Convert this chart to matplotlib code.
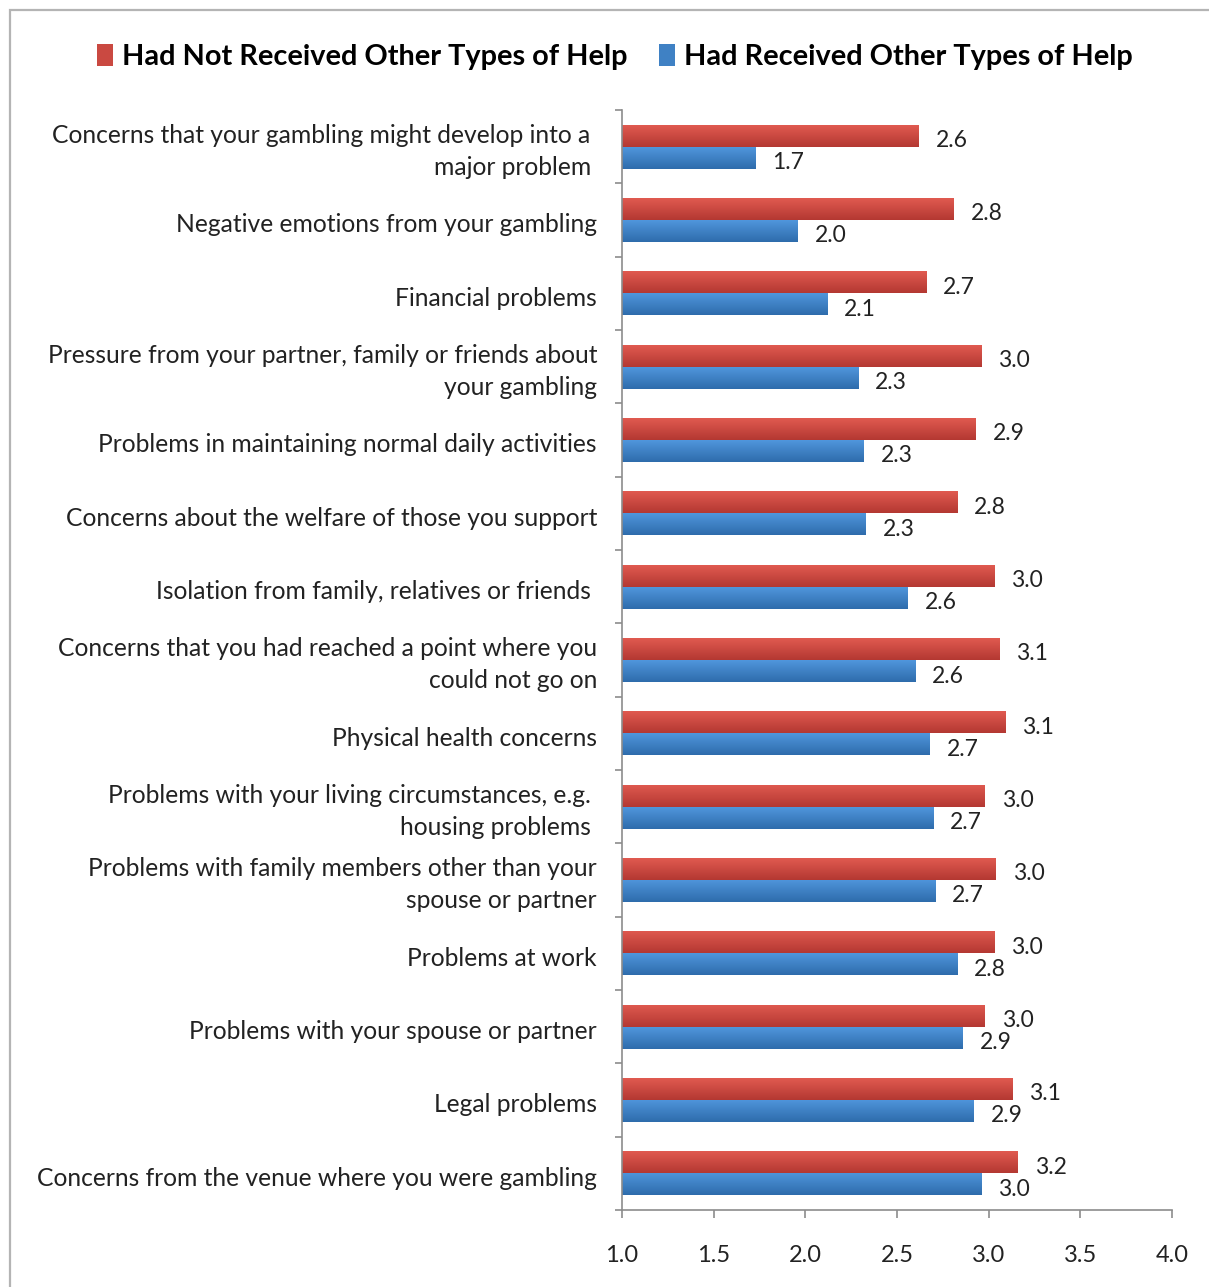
import numpy as np
import matplotlib
matplotlib.use("Agg")
import matplotlib.pyplot as plt
from matplotlib.patches import Patch, Rectangle
from matplotlib.transforms import ScaledTranslation

plt.rcParams['font.family'] = ['Lato', 'DejaVu Sans']

categories = [
    "Concerns that your gambling might develop into a \nmajor problem ",
    "Negative emotions from your gambling",
    "Financial problems",
    "Pressure from your partner, family or friends about\nyour gambling",
    "Problems in maintaining normal daily activities",
    "Concerns about the welfare of those you support",
    "Isolation from family, relatives or friends ",
    "Concerns that you had reached a point where you\ncould not go on",
    "Physical health concerns",
    "Problems with your living circumstances, e.g. \nhousing problems ",
    "Problems with family members other than your\nspouse or partner",
    "Problems at work",
    "Problems with your spouse or partner",
    "Legal problems",
    "Concerns from the venue where you were gambling",
]
not_received = [2.62, 2.81, 2.66, 2.96, 2.93, 2.83, 3.03, 3.06, 3.09, 2.98, 3.04, 3.03, 2.98, 3.13, 3.16]
received = [1.73, 1.96, 2.12, 2.29, 2.32, 2.33, 2.56, 2.60, 2.68, 2.70, 2.71, 2.83, 2.86, 2.92, 2.96]
series_names = ["Had Not Received Other Types of Help", "Had Received Other Types of Help"]
x_ticks = [1.0, 1.5, 2.0, 2.5, 3.0, 3.5, 4.0]

W, H = 1209, 1287
fig = plt.figure(figsize=(W / 100, H / 100), dpi=100)
ax = fig.add_axes([622 / W, 1 - 1210 / H, 550 / W, 1100 / H])

# outer chart frame
fig.patches.append(Rectangle((10 / W, -0.05), 1.2, 1 - 10 / H + 0.05,
                             transform=fig.transFigure, fill=False,
                             edgecolor="#b4b4b4", linewidth=1.6))

red_top, red_bot = np.array([224, 90, 80]) / 255, np.array([180, 56, 50]) / 255
blue_top, blue_bot = np.array([80, 150, 220]) / 255, np.array([46, 108, 172]) / 255
red_mid = (red_top + red_bot) / 2
blue_mid = (blue_top + blue_bot) / 2

y = np.arange(len(categories))
h = 0.3
left = 1.0
red_bars = ax.barh(y - h / 2, np.array(not_received) - left, height=h, left=left,
                   color=red_mid, edgecolor="none", zorder=2)
blue_bars = ax.barh(y + h / 2, np.array(received) - left, height=h, left=left,
                    color=blue_mid, edgecolor="none", zorder=2)


def shade(bars, top, bot):
    # vertical gradient painted inside each bar
    t = np.linspace(0, 1, 64)[:, None]
    grad = (top[None, :] * (1 - t) + bot[None, :] * t)[:, None, :]
    for b in bars:
        x0, y0 = b.get_x(), b.get_y()
        x1, y1 = x0 + b.get_width(), y0 + b.get_height()
        im = ax.imshow(grad, extent=(x0, x1, y1, y0), aspect="auto",
                       interpolation="bilinear", zorder=2.1)
        im.set_clip_path(b)


shade(red_bars, red_top, red_bot)
shade(blue_bars, blue_top, blue_bot)

for bars, vals in ((red_bars, not_received), (blue_bars, received)):
    for b, v in zip(bars, vals):
        ax.annotate(f"{v:.1f}", (v, b.get_y() + b.get_height() / 2), xytext=(12, -3.6),
                    textcoords="offset points", va="center", ha="left",
                    fontsize=16.5, color="#222222")

ax.set_xlim(1.0, 4.0)
ax.set_ylim(len(categories) - 0.5, -0.5)
ax.set_xticks(x_ticks)
ax.set_xticklabels([f"{t:.1f}" for t in x_ticks], fontsize=17, color="#222222")
ax.set_yticks(y)
ax.set_yticklabels(categories, fontsize=17.7, color="#222222", linespacing=1.45)
ax.set_yticks(np.arange(-0.5, len(categories) + 0.5, 1), minor=True)
ax.tick_params(axis="y", which="major", length=0, pad=18)
ax.tick_params(axis="y", which="minor", length=5, color="#8c8c8c", width=1.2)
ax.tick_params(axis="x", which="major", length=6, color="#8c8c8c", width=1.2, pad=19.5)

for lbl in ax.get_yticklabels():
    dy = 1.5 if "\n" in lbl.get_text() else -3
    lbl.set_transform(lbl.get_transform() + ScaledTranslation(0, dy / 100, fig.dpi_scale_trans))

for s in ["top", "right"]:
    ax.spines[s].set_visible(False)
for s in ["left", "bottom"]:
    ax.spines[s].set_color("#8c8c8c")
    ax.spines[s].set_linewidth(1.2)

handles = [Patch(facecolor=red_mid, edgecolor="none"), Patch(facecolor=blue_mid, edgecolor="none")]
fig.legend(handles, series_names, loc="center", bbox_to_anchor=(615 / W, 1 - 57 / H),
           ncol=2, frameon=False, prop={"weight": "bold", "size": 20.8},
           handlelength=0.55, handleheight=0.75, handletextpad=0.3, columnspacing=1.1)

fig.savefig("out.png", dpi=100, facecolor="white")
